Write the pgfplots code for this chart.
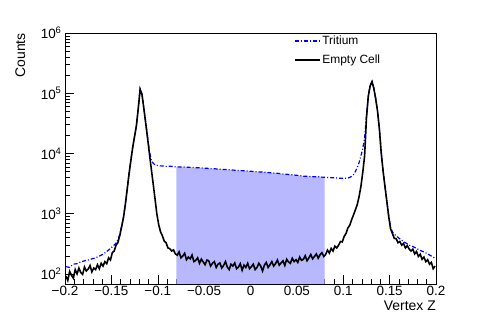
\documentclass[border=0pt]{standalone}
\usepackage{fontspec}
\setmainfont{Liberation Sans}
\usepackage{pgfplots}
\usepackage{pgfplotstable}
\pgfplotsset{compat=1.18}

\pgfplotstableread{
x y
-0.199 92
-0.197 78
-0.195 110
-0.193 95
-0.191 85
-0.189 118
-0.187 100
-0.185 125
-0.183 105
-0.181 98
-0.179 130
-0.177 112
-0.175 120
-0.173 138
-0.171 108
-0.169 125
-0.167 118
-0.165 142
-0.163 122
-0.161 150
-0.159 135
-0.157 160
-0.155 148
-0.153 185
-0.151 170
-0.149 225
-0.147 240
-0.145 300
-0.143 330
-0.141 430
-0.139 600
-0.137 850
-0.135 1400
-0.133 2500
-0.131 4500
-0.129 7600
-0.127 12600
-0.125 19000
-0.123 29000
-0.121 56000
-0.119 116000
-0.117 95000
-0.115 56000
-0.113 32000
-0.111 18000
-0.109 10000
-0.107 5600
-0.105 3200
-0.103 1800
-0.101 1000
-0.099 660
-0.097 500
-0.095 430
-0.093 350
-0.091 330
-0.089 270
-0.087 262
-0.085 240
-0.083 250
-0.081 215
-0.079 205
-0.077 232
-0.075 185
-0.073 198
-0.071 220
-0.069 172
-0.067 190
-0.065 178
-0.063 205
-0.061 160
-0.059 168
-0.057 185
-0.055 150
-0.053 176
-0.051 158
-0.049 142
-0.047 170
-0.045 165
-0.043 135
-0.041 150
-0.039 160
-0.037 128
-0.035 145
-0.033 152
-0.031 125
-0.029 138
-0.027 160
-0.025 130
-0.023 118
-0.021 145
-0.019 135
-0.017 152
-0.015 122
-0.013 130
-0.011 148
-0.009 115
-0.007 140
-0.005 128
-0.003 150
-0.001 122
0.001 132
0.003 145
0.005 118
0.007 128
0.009 150
0.011 135
0.013 112
0.015 140
0.017 155
0.019 128
0.021 142
0.023 160
0.025 135
0.027 148
0.029 170
0.031 140
0.033 152
0.035 165
0.037 138
0.039 175
0.041 158
0.043 150
0.045 182
0.047 160
0.049 172
0.051 155
0.053 190
0.055 168
0.057 175
0.059 200
0.061 165
0.063 185
0.065 210
0.067 178
0.069 195
0.071 215
0.073 182
0.075 208
0.077 225
0.079 195
0.081 210
0.083 248
0.085 222
0.087 265
0.089 240
0.091 290
0.093 270
0.095 300
0.097 345
0.099 340
0.101 420
0.103 470
0.105 580
0.107 640
0.109 790
0.111 950
0.113 1150
0.115 1400
0.117 1900
0.119 2800
0.121 4800
0.123 9000
0.125 38000
0.127 89000
0.129 132000
0.131 155000
0.133 120000
0.135 80000
0.137 50000
0.139 25000
0.141 10000
0.143 5000
0.145 2800
0.147 1600
0.149 900
0.151 560
0.153 470
0.155 390
0.157 385
0.159 330
0.161 345
0.163 300
0.165 320
0.167 270
0.169 295
0.171 260
0.173 240
0.175 258
0.177 215
0.179 235
0.181 195
0.183 212
0.185 175
0.187 190
0.189 160
0.191 172
0.193 145
0.195 155
0.197 122
0.199 135
}\emptycell

\pgfplotstableread{
x y
-0.199 132
-0.195 128
-0.191 145
-0.187 148
-0.183 158
-0.179 165
-0.175 170
-0.171 178
-0.167 185
-0.163 198
-0.159 212
-0.155 235
-0.151 265
-0.147 300
-0.145 325
-0.143 370
-0.141 450
-0.139 620
-0.137 870
-0.135 1450
-0.133 2550
-0.131 4600
-0.129 7700
-0.127 12800
-0.125 19500
-0.123 29500
-0.121 57000
-0.119 118000
-0.117 97000
-0.115 58000
-0.113 33000
-0.111 19000
-0.109 11000
-0.107 7800
-0.105 6900
-0.103 6500
-0.101 6350
-0.099 6250
-0.095 6200
-0.091 6100
-0.087 6150
-0.083 6050
-0.079 6000
-0.075 5950
-0.071 5980
-0.067 5900
-0.063 5850
-0.059 5800
-0.055 5780
-0.051 5700
-0.047 5680
-0.043 5600
-0.039 5580
-0.035 5500
-0.031 5450
-0.027 5420
-0.023 5380
-0.019 5300
-0.015 5250
-0.011 5200
-0.007 5150
-0.003 5120
0.001 5050
0.005 5000
0.009 4950
0.013 4900
0.017 4850
0.021 4780
0.025 4720
0.029 4680
0.033 4600
0.037 4550
0.041 4480
0.045 4420
0.049 4350
0.053 4300
0.057 4200
0.061 4180
0.065 4150
0.069 4100
0.073 4120
0.077 4050
0.081 4000
0.085 3980
0.089 3950
0.093 3900
0.097 3880
0.101 3850
0.105 3900
0.107 4000
0.109 4150
0.111 4450
0.113 5000
0.115 5800
0.117 7000
0.119 9000
0.121 12000
0.123 18000
0.125 42000
0.127 90000
0.129 134000
0.131 157000
0.133 122000
0.135 82000
0.137 51000
0.139 25500
0.141 10300
0.143 5200
0.145 2900
0.147 1650
0.149 930
0.151 600
0.153 500
0.155 455
0.159 405
0.163 360
0.167 330
0.171 300
0.175 285
0.179 265
0.183 245
0.187 232
0.191 215
0.195 198
0.199 182
}\tritium

\pgfplotstableread{
x y
-0.080 6010
-0.079 6000
-0.075 5950
-0.071 5980
-0.067 5900
-0.063 5850
-0.059 5800
-0.055 5780
-0.051 5700
-0.047 5680
-0.043 5600
-0.039 5580
-0.035 5500
-0.031 5450
-0.027 5420
-0.023 5380
-0.019 5300
-0.015 5250
-0.011 5200
-0.007 5150
-0.003 5120
0.001 5050
0.005 5000
0.009 4950
0.013 4900
0.017 4850
0.021 4780
0.025 4720
0.029 4680
0.033 4600
0.037 4550
0.041 4480
0.045 4420
0.049 4350
0.053 4300
0.057 4200
0.061 4180
0.065 4150
0.069 4100
0.073 4120
0.077 4050
0.080 4010
}\shade

\begin{document}
\begin{tikzpicture}
\useasboundingbox (-65bp,-30bp) rectangle (420bp,284bp);
\begin{axis}[
  name=ax,
  scale only axis, width=371bp, height=251bp,
  at={(0,0)}, anchor=south west,
  xmin=-0.2, xmax=0.2,
  ymode=log, ymin=68, ymax=1e6,
  xtick={-0.2,-0.15,-0.1,-0.05,0,0.05,0.1,0.15,0.2},
  xticklabels={−0.2,−0.15,−0.1,−0.05,0,0.05,0.1,0.15,0.2},
  minor x tick num=4,
  ytick={1e2,1e3,1e4,1e5,1e6},
  yticklabels={10\textsuperscript{2},10\textsuperscript{3},10\textsuperscript{4},10\textsuperscript{5},10\textsuperscript{6}},
  tick align=inside, xtick pos=left, ytick pos=left,
  major tick length=9bp, minor tick length=5bp,
  tick style={black, line width=0.5pt},
  axis line style={line width=0.9bp},
  ticklabel style={font=\fontsize{13.5}{16}\selectfont},
  xticklabel style={yshift=1bp},
  xlabel={Vertex Z},
  label style={font=\fontsize{14}{16}\selectfont},
  xlabel style={at={(rel axis cs:1,0)}, anchor=north east, inner sep=0pt, yshift=-17bp},
  legend style={at={(axis description cs:0.608,1.005)}, anchor=north west, draw=none, fill=none,
    font=\fontsize{12}{14}\selectfont, row sep=5bp},
  legend cell align=left,
  legend image code/.code={\draw[#1] (0bp,0bp) -- (25bp,0bp);},
]
\addplot[draw=none, fill=blue!28, forget plot] table[x=x,y=y]{\shade} \closedcycle;
\addplot[blue, line width=1.2bp, dash pattern=on 4bp off 2bp on 1bp off 2bp] table[x=x,y=y]{\tritium};
\addlegendentry{Tritium}
\addplot[black, line width=1.6bp] table[x=x,y=y]{\emptycell};
\addlegendentry{Empty Cell}
\end{axis}
\node[rotate=90, anchor=base east, inner sep=0pt, font=\fontsize{14}{16}\selectfont] at ([xshift=-40bp]ax.north west) {Counts};
\end{tikzpicture}
\end{document}
